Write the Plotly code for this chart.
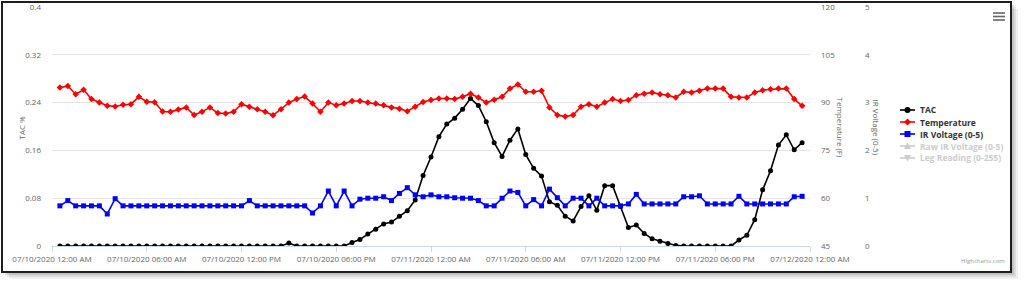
import pandas as pd
import plotly.graph_objects as go

# ---------------- data ----------------
times = pd.date_range("2020-07-10 00:30", periods=95, freq="30min")

tac = [0, 0, 0, 0, 0, 0, 0, 0, 0, 0, 0, 0, 0, 0, 0, 0, 0, 0, 0, 0, 0, 0, 0, 0, 0, 0, 0, 0, 0,
       0.005, 0, 0, 0, 0, 0, 0, 0,
       0.006, 0.011, 0.020, 0.028, 0.037, 0.040, 0.050, 0.059, 0.077, 0.118, 0.149, 0.183,
       0.204, 0.214, 0.229, 0.247, 0.235, 0.208, 0.173, 0.150, 0.177, 0.196, 0.153, 0.130,
       0.117, 0.074, 0.068, 0.050, 0.042, 0.066, 0.084, 0.060, 0.101, 0.101, 0.066, 0.031,
       0.035, 0.021, 0.012, 0.008, 0.004, 0.001,
       0, 0, 0, 0, 0, 0, 0,
       0.010, 0.018, 0.044, 0.094, 0.126, 0.169, 0.186, 0.161, 0.173]

temperature = [94.7, 95.2, 92.6, 94.0, 91.1, 90.0, 89.0, 88.8, 89.3, 89.5, 91.8, 90.3, 90.1,
               87.2, 87.1, 87.8, 88.5, 86.1, 87.1, 88.5, 86.7, 86.6, 87.1,
               89.5, 88.7, 87.9, 87.1, 86.0, 87.9, 90.0, 91.1, 91.9, 89.7, 87.1, 90.0, 89.2,
               89.7, 90.5, 90.5, 90.0, 89.7, 89.2, 88.5,
               88.1, 87.3, 88.7, 90.2, 90.8, 91.3, 91.3, 91.1, 91.8, 92.8, 91.6, 90.0, 90.9,
               91.8, 94.4, 95.7, 93.4, 93.4, 93.7, 88.5, 86.1, 85.6, 86.1, 88.7, 89.5, 88.7,
               90.0, 91.1, 90.5, 90.8, 92.3, 92.8, 93.2, 92.6, 92.3, 91.6, 93.4, 93.2, 93.7,
               94.4, 94.4, 94.4, 91.8, 91.6, 91.6, 93.2, 93.9, 94.2, 94.4, 94.4, 91.1, 89.0]

ir_voltage = [0.84, 0.95, 0.84, 0.84, 0.84, 0.84, 0.67, 0.99,
              0.84, 0.84, 0.84, 0.84, 0.84, 0.84, 0.84, 0.84, 0.84, 0.84, 0.84, 0.84, 0.84,
              0.84, 0.84, 0.84,
              0.95, 0.84, 0.84, 0.84, 0.84, 0.84, 0.84, 0.84, 0.69, 0.84, 1.15, 0.84, 1.15,
              0.84, 0.98, 1.00, 1.00, 1.03, 0.95, 1.10, 1.22, 1.07, 1.03, 1.07, 1.03, 1.03,
              1.01, 1.00, 1.00, 0.95, 0.84, 0.84, 1.00, 1.15, 1.12, 0.84, 0.97, 0.84, 1.19,
              1.01, 0.84, 1.00, 1.00, 0.84, 1.00, 0.84, 0.84, 0.84, 0.88, 1.08,
              0.88, 0.88, 0.88, 0.88, 0.88, 1.03, 1.03, 1.05, 0.88, 0.88, 0.88, 0.88, 1.04,
              0.88, 0.88, 0.88, 0.88, 0.88, 0.88, 1.03, 1.04]

series_names = ["TAC", "Temperature", "IR Voltage (0-5)", "Raw IR Voltage (0-5)", "Leg Reading (0-255)"]
series_colors = ["#000000", "#ff0000", "#0000ff", "#cccccc", "#cccccc"]
legend_text_colors = ["#333333", "#333333", "#333333", "#cccccc", "#cccccc"]

x_tick_vals = ["2020-07-10 00:00", "2020-07-10 06:00", "2020-07-10 12:00", "2020-07-10 18:00",
               "2020-07-11 00:00", "2020-07-11 06:00", "2020-07-11 12:00", "2020-07-11 18:00",
               "2020-07-12 00:00"]
x_tick_text = ["07/10/2020 12:00 AM", "07/10/2020 06:00 AM", "07/10/2020 12:00 PM",
               "07/10/2020 06:00 PM", "07/11/2020 12:00 AM", "07/11/2020 06:00 AM",
               "07/11/2020 12:00 PM", "07/11/2020 06:00 PM", "07/12/2020 12:00 AM"]
tac_ticks = [0, 0.08, 0.16, 0.24, 0.32, 0.4]
tac_tick_text = ["0", "0.08", "0.16", "0.24", "0.32", "0.4"]
temp_ticks = [45, 60, 75, 90, 105, 120]
ir_ticks = [0, 1, 2, 3, 4, 5]

# ---------------- layout helpers ----------------
W, H = 1024, 285
ML, MR, MT, MB = 52, 10, 7, 39
PW, PH = W - ML - MR, H - MT - MB


def px(x):
    return (x - ML) / PW


def py(y):
    return (H - MB - y) / PH


FONT = "Open Sans, Liberation Sans, sans-serif"
TICKFONT = dict(family=FONT, size=8, color="#666666")

fig = go.Figure()
fig.add_trace(go.Scatter(x=times, y=tac, name=series_names[0], yaxis="y",
                         mode="lines+markers", line=dict(color=series_colors[0], width=1.6),
                         marker=dict(symbol="circle", size=5, color=series_colors[0])))
fig.add_trace(go.Scatter(x=times, y=temperature, name=series_names[1], yaxis="y2",
                         mode="lines+markers", line=dict(color=series_colors[1], width=1.6),
                         marker=dict(symbol="diamond", size=5, color=series_colors[1])))
fig.add_trace(go.Scatter(x=times, y=ir_voltage, name=series_names[2], yaxis="y3",
                         mode="lines+markers", line=dict(color=series_colors[2], width=1.6),
                         marker=dict(symbol="square", size=5, color=series_colors[2])))

xdom = px(810)
fig.update_layout(
    width=W, height=H,
    margin=dict(l=ML, r=MR, t=MT, b=MB, autoexpand=False),
    paper_bgcolor="white", plot_bgcolor="rgba(0,0,0,0)",
    showlegend=False,
    font=dict(family=FONT, size=8, color="#666666"),
    xaxis=dict(domain=[0, xdom], type="date", automargin=False,
               range=["2020-07-10 00:00", "2020-07-12 00:00"],
               tickvals=x_tick_vals, ticktext=x_tick_text, tickfont=TICKFONT,
               showgrid=False, zeroline=False, showline=True, linecolor="#ccd6eb",
               ticks="outside", ticklen=5, tickcolor="#ccd6eb"),
    yaxis=dict(range=[0, 0.4], tickvals=tac_ticks, ticktext=tac_tick_text, automargin=False,
               tickfont=TICKFONT, showgrid=True, gridcolor="#e6e6e6", gridwidth=1,
               zeroline=False, showline=False, ticks="", ticklabelstandoff=10),
    yaxis2=dict(range=[45, 120], tickvals=temp_ticks, tickfont=TICKFONT, automargin=False,
                overlaying="y", side="right", anchor="x", showgrid=False,
                zeroline=False, showline=False, ticks="", ticklabelstandoff=10),
    yaxis3=dict(range=[0, 5], tickvals=ir_ticks, tickfont=TICKFONT, automargin=False,
                overlaying="y", side="right", anchor="free", position=px(856),
                autoshift=False, showgrid=False, zeroline=False, showline=False, ticks="",
                ticklabelstandoff=8),
)

shapes = []
# drop shadow and frame
for off, op in [(7, 0.06), (5, 0.08), (3, 0.12)]:
    shapes.append(dict(type="rect", xref="paper", yref="paper", layer="below",
                       x0=px(2 + off), x1=px(1011 + off), y0=py(272 + off), y1=py(2 + off),
                       line=dict(width=0), fillcolor="rgba(0,0,0,%s)" % op))
shapes.append(dict(type="rect", xref="paper", yref="paper", layer="below",
                   x0=px(2), x1=px(1011), y0=py(272), y1=py(2),
                   line=dict(color="#1e1e1e", width=2), fillcolor="white"))
# export menu icon
for yy in [13, 16.5, 20]:
    shapes.append(dict(type="line", xref="paper", yref="paper",
                       x0=px(993), x1=px(1005), y0=py(yy), y1=py(yy),
                       line=dict(color="#666666", width=1.6)))

annotations = [
    dict(text="TAC %", x=px(14), y=py(128), xref="paper", yref="paper", showarrow=False,
         textangle=-90, font=dict(family=FONT, size=8, color="#666666")),
    dict(text="Temperature (F)", x=px(848), y=py(127), xref="paper", yref="paper",
         showarrow=False, textangle=90, font=dict(family=FONT, size=8, color="#666666")),
    dict(text="IR Voltage (0-5)", x=px(884), y=py(127), xref="paper", yref="paper",
         showarrow=False, textangle=90, font=dict(family=FONT, size=8, color="#666666")),
    dict(text="Highcharts.com", x=px(1007), y=py(267), xref="paper", yref="paper",
         showarrow=False, xanchor="right", font=dict(family=FONT, size=6, color="#999999")),
]

# legend (Highcharts style, vertical, right)
legend_y = [110, 122, 134, 146, 158]
legend_symbols = ["circle", "diamond", "square", "triangle", "triangle-down"]
for name, col, tcol, ly, sym in zip(series_names, series_colors, legend_text_colors,
                                    legend_y, legend_symbols):
    shapes.append(dict(type="line", xref="paper", yref="paper",
                       x0=px(900), x1=px(915), y0=py(ly), y1=py(ly),
                       line=dict(color=col, width=1.6)))
    cx, cy = px(907.5), py(ly)
    if sym == "circle":
        shapes.append(dict(type="circle", xref="paper", yref="paper", xsizemode="pixel",
                           ysizemode="pixel", xanchor=cx, yanchor=cy, x0=-3, x1=3, y0=-3, y1=3,
                           fillcolor=col, line=dict(width=0)))
    elif sym == "square":
        shapes.append(dict(type="rect", xref="paper", yref="paper", xsizemode="pixel",
                           ysizemode="pixel", xanchor=cx, yanchor=cy, x0=-3, x1=3, y0=-3, y1=3,
                           fillcolor=col, line=dict(width=0)))
    else:
        paths = {"diamond": "M0,3.5 L3.5,0 L0,-3.5 L-3.5,0 Z",
                 "triangle": "M0,3.5 L3.5,-3 L-3.5,-3 Z",
                 "triangle-down": "M0,-3.5 L3.5,3 L-3.5,3 Z"}
        shapes.append(dict(type="path", xref="paper", yref="paper", xsizemode="pixel",
                           ysizemode="pixel", xanchor=cx, yanchor=cy, path=paths[sym],
                           fillcolor=col, line=dict(width=0)))
    annotations.append(dict(text="<b>%s</b>" % name, x=px(918), y=py(ly), xref="paper",
                            yref="paper", showarrow=False, xanchor="left", yanchor="middle",
                            font=dict(family=FONT, size=8.5, color=tcol)))

fig.update_layout(shapes=shapes, annotations=annotations)
fig.write_html("out.html")
